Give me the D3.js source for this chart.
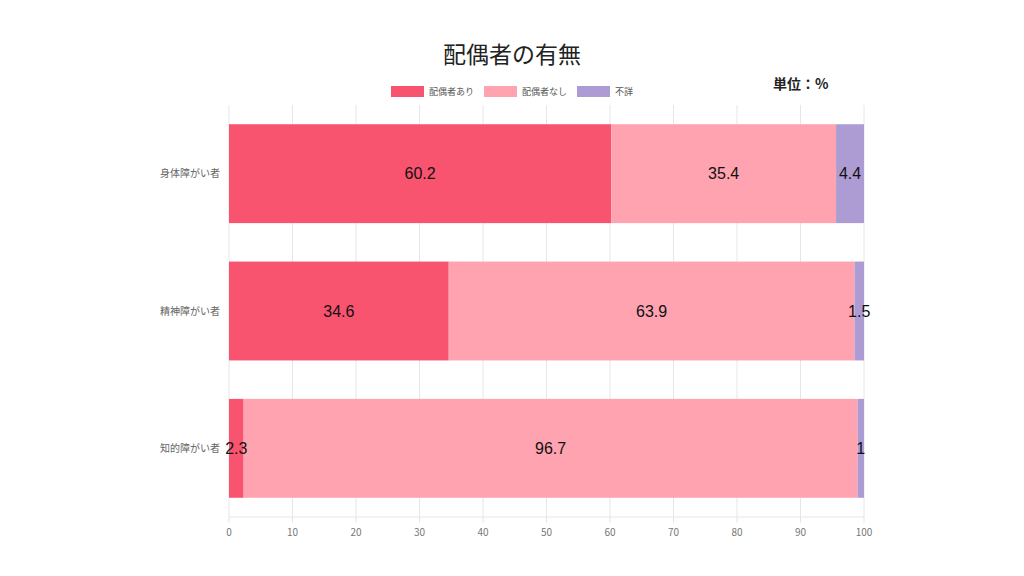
<!DOCTYPE html>
<html>
<head>
<meta charset="utf-8">
<script src="https://cdn.jsdelivr.net/npm/d3@7"></script>
<style>
  body { margin: 0; background: #fff; }
  text { font-family: "Noto Sans CJK JP", "Noto Sans", sans-serif; }
</style>
</head>
<body>
<div id="chart"></div>
<script>
"use strict"

const categories = ["身体障がい者", "精神障がい者", "知的障がい者"];
const seriesNames = ["配偶者あり", "配偶者なし", "不詳"];
const withSpouse = [60.2, 34.6, 2.3];
const noSpouse = [35.4, 63.9, 96.7];
const unknown = [4.4, 1.5, 1];
const xTicks = [0, 10, 20, 30, 40, 50, 60, 70, 80, 90, 100];
const colors = ["#f8536f", "#ffa3b1", "#ad9bd3"];

const width = 1024, height = 576;
const margin = {top: 105, right: 160, bottom: 59, left: 229};

const svg = d3.select("#chart")
  .append("svg")
    .attr("width", width)
    .attr("height", height);

const x = d3.scaleLinear()
  .domain([0, 100])
  .range([margin.left, width - margin.right]);

const y = d3.scaleBand()
  .domain(categories)
  .range([margin.top, height - margin.bottom])
  .paddingInner(0.28)
  .paddingOuter(0.14);

// Gridlines
svg.append("g")
  .selectAll("line")
  .data(xTicks)
  .enter()
  .append("line")
    .attr("x1", d => x(d))
    .attr("x2", d => x(d))
    .attr("y1", margin.top)
    .attr("y2", height - margin.bottom + 6)
    .attr("stroke", "#e6e6e6")
    .attr("stroke-width", 1);

svg.append("line")
  .attr("x1", x(0))
  .attr("x2", x(100))
  .attr("y1", height - margin.bottom)
  .attr("y2", height - margin.bottom)
  .attr("stroke", "#e6e6e6");

// Y labels (drawn first so value labels sit on top)
svg.append("g")
  .selectAll("text")
  .data(categories)
  .enter()
  .append("text")
    .attr("x", margin.left - 9)
    .attr("y", d => y(d) + y.bandwidth() / 2)
    .attr("dy", "0.35em")
    .attr("text-anchor", "end")
    .attr("fill", "#666")
    .style("font-size", "10px")
    .text(d => d);

// Stacked data
const rows = categories.map((c, i) => ({cat: c, values: [withSpouse[i], noSpouse[i], unknown[i]]}));
const stacked = d3.stack()
  .keys([0, 1, 2])
  .value((d, k) => d.values[k])(rows);

const layers = svg.append("g")
  .selectAll("g")
  .data(stacked)
  .enter()
  .append("g")
    .attr("fill", (d, i) => colors[i]);

layers.selectAll("rect")
  .data(d => d)
  .enter()
  .append("rect")
    .attr("x", d => x(d[0]))
    .attr("width", d => x(d[1]) - x(d[0]))
    .attr("y", d => y(d.data.cat))
    .attr("height", y.bandwidth());

// Value labels
const labels = svg.append("g");
stacked.forEach((layer, k) => {
  labels.selectAll(null)
    .data(layer)
    .enter()
    .append("text")
      .attr("x", d => x((d[0] + d[1]) / 2))
      .attr("y", d => y(d.data.cat) + y.bandwidth() / 2)
      .attr("dy", "0.35em")
      .attr("text-anchor", "middle")
      .attr("fill", "#111")
      .style("font-family", "Liberation Sans, Arial, sans-serif")
      .style("font-size", "16px")
      .text(d => d.data.values[k]);
});

// X axis labels
svg.append("g")
  .selectAll("text")
  .data(xTicks)
  .enter()
  .append("text")
    .attr("x", d => x(d))
    .attr("y", height - margin.bottom + 19)
    .attr("text-anchor", "middle")
    .attr("fill", "#777")
    .style("font-size", "10px")
    .text(d => d);

// Title
svg.append("text")
  .attr("x", 512)
  .attr("y", 63)
  .attr("text-anchor", "middle")
  .attr("fill", "#222")
  .style("font-size", "23px")
  .text("配偶者の有無");

svg.append("text")
  .attr("x", 773)
  .attr("y", 89)
  .attr("fill", "#222")
  .style("font-size", "14px")
  .style("font-weight", "bold")
  .text("単位：%");

// Legend
const legendX = [391, 484, 577];
const legend = svg.append("g")
  .selectAll("g")
  .data(seriesNames)
  .enter()
  .append("g")
    .attr("transform", (d, i) => `translate(${legendX[i]},86)`);

legend.append("rect")
  .attr("width", 33)
  .attr("height", 11)
  .attr("fill", (d, i) => colors[i]);

legend.append("text")
  .attr("x", 38)
  .attr("y", 6)
  .attr("dy", "0.35em")
  .attr("fill", "#555")
  .style("font-size", "9px")
  .text(d => d);
</script>
</body>
</html>
